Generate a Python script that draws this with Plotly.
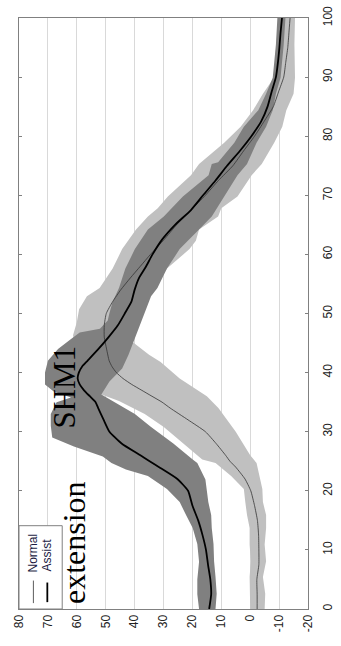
import plotly.graph_objects as go

# Gait-cycle percentage (0-100) and joint angle (deg) for the two conditions
assist_pct = [0, 2.5, 5, 7.5, 10, 12.5, 15, 17.5, 20, 22, 24, 25, 26, 28, 30, 32, 34, 35, 36, 37,
              38, 39, 40, 41, 42, 44, 46, 48, 50, 52, 54, 56, 58, 60, 62.5, 65, 67.5, 70, 72.5, 75,
              77.5, 80, 82.5, 85, 87.5, 90, 92.5, 95, 97.5, 100]
assist_mean = [14.2, 13.5, 13.8, 14.6, 15.3, 16.5, 18.0, 20.0, 21.5, 25.2, 31.5, 34.8, 38, 44.5, 48.7,
               50.7, 52.6, 53.5, 55.5, 57.5, 59, 59.7, 59.3, 58.2, 56.3, 52.5, 49, 45.8, 43.4, 41.1,
               40, 38.5, 36, 33.8, 30.5, 26, 20.5, 16.3, 12, 8, 3.6, -0.4, -3.8, -6, -7.4, -8.9,
               -9.6, -10.1, -10.5, -11]
normal_mean = [-2.4, -2.4, -2.3, -3.0, -3.0, -2.9, -2.5, -1.5, -0.2, 1.8, 5.0, 7, 8.5, 11.8, 15.5,
               21.5, 27.7, 30.5, 34, 37.5, 41, 44, 46.3, 47.8, 48.8, 49.7, 50.5, 50.5, 49.8, 47.6,
               44.8, 41.5, 38, 34.5, 29.8, 25.5, 20.5, 15.5, 11, 6, 2.3, -1.5, -4.8, -8, -9.8,
               -11.6, -12.3, -13, -13.4, -13.8]

# Upper / lower edges of the spread bands
assist_hi_pct = [0, 2.5, 5, 8, 11, 13.7, 15.9, 18.1, 20.3, 22.5, 23.6, 24.7, 25.8, 27.5, 29, 31, 33,
                 35, 35.8, 36.8, 38, 40, 42, 44, 45.7, 46.8, 47.4, 48.8, 50.1, 52, 54.3, 57.6, 60.9,
                 64.2, 66.4, 69.8, 73.4, 75.3, 75.6, 78.9, 81.6, 84.4, 87.2, 89.9, 95.5, 100]
assist_hi_val = [17.7, 18.3, 18.3, 17.7, 18.3, 19.9, 22.2, 24.4, 28.8, 35.4, 43, 48, 51, 61, 68.5,
                 69, 69, 67, 62, 68, 71, 71, 70, 66.5, 62, 59, 52, 49.3, 48.7, 47.6, 45.4, 43.2,
                 39.9, 35.4, 29.9, 23.3, 14.4, 13.3, 11.1, 5.5, 2.2, -2.8, -5.5, -7.8, -8.9, -9.4]
assist_lo_pct = [0, 2.6, 5.4, 8.1, 11, 13.7, 15.9, 18.1, 20.3, 21.9, 24.7, 25.3, 28, 30.8, 33, 35.2,
                 36.3, 38.5, 40.7, 43, 45.2, 47.4, 50.1, 52.9, 54.3, 57.6, 60.9, 64.2, 66.4, 69.8,
                 73.4, 75.3, 78.9, 81.6, 84.4, 87.2, 89.9, 95.5, 100]
assist_lo_val = [12, 11.6, 12, 12.5, 12.7, 13.3, 13.5, 14.5, 15, 15.5, 18.3, 19.9, 26.6, 34.3, 39.9,
                 47.6, 51.5, 48.7, 44.3, 42.1, 40.4, 38.8, 36.5, 34.3, 32.1, 28.8, 24.4, 17.7, 13.3,
                 8.9, 4.4, 1.1, -2.2, -5.5, -7.8, -8.9, -10.5, -11.6, -12.2]
normal_hi_pct = [0, 2.6, 5.4, 8.1, 10.9, 13.7, 15.9, 18.1, 20.3, 22.5, 24.7, 25.3, 28, 30.8, 33,
                 35.2, 36.3, 38, 40, 42, 44, 46.3, 48.5, 50.7, 52.9, 54.3, 57.6, 60.9, 64.2, 66.4,
                 67.8, 69.8, 73.4, 75.3, 78.9, 81.6, 84.4, 87.2, 89.9, 95.5, 100]
normal_hi_val = [0, 0.2, 0.2, -0.2, 0.2, 0.2, 1.1, 1.7, 2.2, 6.6, 12, 16.6, 23.3, 29.9, 36.5, 45.4,
                 51.5, 56, 58, 59.5, 60.5, 61.3, 60, 59.2, 56.5, 52.1, 47.6, 44.3, 39.5, 35.4, 32,
                 28.5, 20.5, 17.7, 9, 3.3, -1, -4.4, -8.2, -8.9, -9.7]
normal_lo_pct = [0, 2.6, 5.4, 8.1, 10.9, 13.7, 15.9, 18.1, 20.3, 22.5, 24.7, 26, 28, 30, 32, 34, 36,
                 39, 41.8, 43, 45.2, 48.8, 51, 54.3, 57.6, 60.9, 62.3, 64.2, 66.4, 67.8, 69.8, 73.4,
                 75.3, 78.9, 81.6, 84.4, 87.2, 89.9, 95.5, 100]
normal_lo_val = [-5, -5.2, -4.4, -5.5, -5, -5.5, -5.5, -4.4, -4.2, -3.3, -2.2, 0, 2.5, 5, 8, 11, 15,
                 24.4, 31, 35, 40.8, 38, 36.5, 33.2, 28.8, 21, 18.8, 17.7, 11.1, 10, 4.4, -0.5, -4,
                 -8.3, -11.1, -12.5, -15, -15.5, -15.3, -15.5]

angle_ticks = [-20, -10, 0, 10, 20, 30, 40, 50, 60, 70, 80]
pct_ticks = [0, 10, 20, 30, 40, 50, 60, 70, 80, 90, 100]
legend_labels = ["Normal", "Assist"]
title_text = "SHM1"
subtitle_text = "extension"

W, H = 341, 646
ML, MR, MT, MB = 19, 21, 6, 37
PW, PH = W - ML - MR, H - MT - MB


def px(xp):
    return (xp - ML) / PW


def py(yp):
    return (H - MB - yp) / PH


fig = go.Figure()

# spread bands (the chart is laid out sideways: angle runs horizontally, reversed)
fig.add_trace(go.Scatter(
    x=normal_hi_val + normal_lo_val[::-1], y=normal_hi_pct + normal_lo_pct[::-1],
    fill="toself", fillcolor="#c0c0c0", line=dict(width=0), mode="lines",
    hoverinfo="skip", showlegend=False))
fig.add_trace(go.Scatter(
    x=assist_hi_val + assist_lo_val[::-1], y=assist_hi_pct + assist_lo_pct[::-1],
    fill="toself", fillcolor="#808080", line=dict(width=0), mode="lines",
    hoverinfo="skip", showlegend=False))

# mean curves
fig.add_trace(go.Scatter(x=normal_mean, y=assist_pct, mode="lines",
                         line=dict(color="#333333", width=0.8, shape="spline", smoothing=0.5),
                         name=legend_labels[0], showlegend=False))
fig.add_trace(go.Scatter(x=assist_mean, y=assist_pct, mode="lines",
                         line=dict(color="#000000", width=1.8, shape="spline", smoothing=0.5),
                         name=legend_labels[1], showlegend=False))

tick_font = dict(family="Liberation Sans, Arial, sans-serif", size=12, color="#222222")

fig.update_xaxes(range=[80, -20], tickvals=angle_ticks, ticktext=[str(v) for v in angle_ticks],
                 tickangle=-90, tickfont=tick_font, showgrid=True, gridcolor="#d9d9d9",
                 gridwidth=1, zeroline=False, showline=True, linecolor="#808080", linewidth=1,
                 mirror=True, ticks="", ticklabeloverflow="allow")
fig.update_yaxes(range=[0, 100], tickvals=pct_ticks, ticktext=[str(v) for v in pct_ticks],
                 side="right", tickangle=-90, tickfont=tick_font, showgrid=False,
                 zeroline=False, showline=True, linecolor="#808080", linewidth=1,
                 mirror="ticks", ticks="inside", ticklen=3, tickcolor="#808080",
                 ticklabeloverflow="allow", ticklabelstandoff=9)

serif = "Liberation Serif, Times New Roman, serif"
annotations = [
    dict(text=title_text, x=px(66), y=py(383), textangle=-90,
         font=dict(family=serif, size=31, color="#000000")),
    dict(text=subtitle_text, x=px(77), y=py(541), textangle=-90,
         font=dict(family=serif, size=32, color="#000000")),
    dict(text=legend_labels[0], x=px(34), y=py(552), textangle=-90,
         font=dict(family="Liberation Sans, Arial, sans-serif", size=12, color="#1c1c44")),
    dict(text=legend_labels[1], x=px(48.5), y=py(554), textangle=-90,
         font=dict(family="Liberation Sans, Arial, sans-serif", size=12, color="#1c1c44")),
]
for a in annotations:
    a.update(xref="paper", yref="paper", showarrow=False, xanchor="center", yanchor="middle")

shapes = [
    dict(type="rect", xref="paper", yref="paper", x0=0, x1=px(64), y0=0, y1=py(524),
         line=dict(color="#808080", width=1), fillcolor="white", layer="above"),
    dict(type="line", xref="paper", yref="paper", x0=px(34), x1=px(34), y0=py(603), y1=py(580),
         line=dict(color="#333333", width=0.8)),
    dict(type="line", xref="paper", yref="paper", x0=px(48.5), x1=px(48.5), y0=py(602),
         y1=py(582), line=dict(color="#000000", width=1.8)),
]

fig.update_layout(width=W, height=H, margin=dict(l=ML, r=MR, t=MT, b=MB),
                  paper_bgcolor="white", plot_bgcolor="white",
                  annotations=annotations, shapes=shapes, showlegend=False)

fig.write_html("out.html")
